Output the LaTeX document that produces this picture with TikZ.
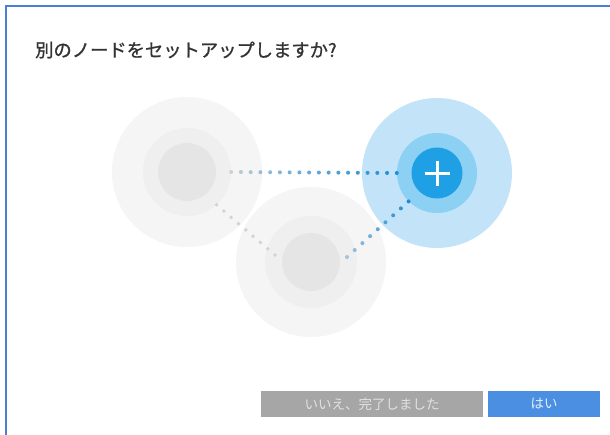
\documentclass[tikz,border=0pt]{standalone}
\usepackage{fontspec}
\newfontfamily\jp{Noto Sans CJK JP}
\newfontfamily\jpmed{Noto Sans CJK JP}[FakeBold=1.0]
\usetikzlibrary{calc}
\definecolor{frameblue}{HTML}{4A7FD4}
\definecolor{titlecol}{HTML}{333333}
\definecolor{gOuter}{HTML}{F5F5F5}
\definecolor{gMid}{HTML}{EFEFEF}
\definecolor{gInner}{HTML}{E5E5E5}
\definecolor{bOuter}{HTML}{C3E4F8}
\definecolor{bMid}{HTML}{8CD0F4}
\definecolor{bInner}{HTML}{1FA0E5}
\definecolor{dotGray}{HTML}{CDD1D5}
\definecolor{dotGrayB}{HTML}{D2D2D2}
\definecolor{dotBlue}{HTML}{1F8DD8}
\definecolor{dotBlueL}{HTML}{A3C2DC}
\definecolor{btnGray}{HTML}{A6A6A6}
\definecolor{btnGrayTxt}{HTML}{E2E2E2}
\definecolor{btnBlue}{HTML}{4A8FE2}
\definecolor{btnBlueTxt}{HTML}{E4EEFA}
\tikzset{
  disc/.style={circle, inner sep=0pt, draw=none},
  btn/.style={rectangle, inner sep=0pt, minimum height=26pt, font=\jp\fontsize{13.5}{15}\selectfont},
}
\begin{document}
\begin{tikzpicture}[x=1pt,y=-1pt]
\useasboundingbox (0,0) rectangle (610,434);
\fill[white] (0,0) rectangle (610,434);
\draw[frameblue, line width=2pt] (611,6) -- (6,6) -- (6,435);
% title
\node[anchor=west, text=titlecol, inner sep=0pt, font=\jpmed\fontsize{18.3}{20}\selectfont] (title) at (35,50) {別のノードをセットアップしますか?};
% left node
\node[disc, fill=gOuter, minimum size=150pt] (n1) at (187,172) {};
\node[disc, fill=gMid, minimum size=88pt] (n1m) at (n1) {};
\node[disc, fill=gInner, minimum size=58pt] (n1i) at (n1) {};
% bottom node
\node[disc, fill=gOuter, minimum size=150pt] (n2) at (311,262) {};
\node[disc, fill=gMid, minimum size=92pt] (n2m) at (n2) {};
\node[disc, fill=gInner, minimum size=58pt] (n2i) at (n2) {};
% blue node
\node[disc, fill=bOuter, minimum size=150pt] (n3) at (437,173) {};
\node[disc, fill=bMid, minimum size=80pt] (n3m) at (n3) {};
\node[disc, fill=bInner, minimum size=51pt] (n3i) at (n3) {};
\draw[white, line width=3pt] ($(n3i.center)+(-12.5,0)$) -- ($(n3i.center)+(12.5,0)$);
\draw[white, line width=3pt] ($(n3i.center)+(0,-12.5)$) -- ($(n3i.center)+(0,12.5)$);
% dotted connectors
\coordinate (h1) at (n1m.east);
\coordinate (h2) at (n3m.west);
\coordinate (d1s) at (n1m.-48);
\coordinate (d1e) at (275,255);
\coordinate (d2s) at (n3m.225);
\coordinate (d2e) at (347,257);
\foreach \i in {0,...,17}{
  \pgfmathsetmacro\t{\i/17}
  \pgfmathsetmacro\p{100*(\t^0.7)}
  \fill[dotBlue!\p!dotGray] ($(h1)!\t!(h2)$) circle (2);
}
\foreach \i in {0,...,8}{
  \pgfmathsetmacro\t{\i/8}
  \fill[dotGrayB] ($(d1s)!\t!(d1e)$) circle (1.9);
}
\foreach \i in {0,...,8}{
  \pgfmathsetmacro\t{\i/8}
  \pgfmathsetmacro\p{100-100*\t}
  \fill[dotBlue!\p!dotBlueL] ($(d2s)!\t!(d2e)$) circle (2);
}
% buttons
\node[btn, fill=btnGray, text=btnGrayTxt, minimum width=222pt] (no) at (372,404) {いいえ、完了しました};
\node[btn, fill=btnBlue, text=btnBlueTxt, minimum width=112pt] (yes) at (544,404) {はい};
\end{tikzpicture}
\end{document}
